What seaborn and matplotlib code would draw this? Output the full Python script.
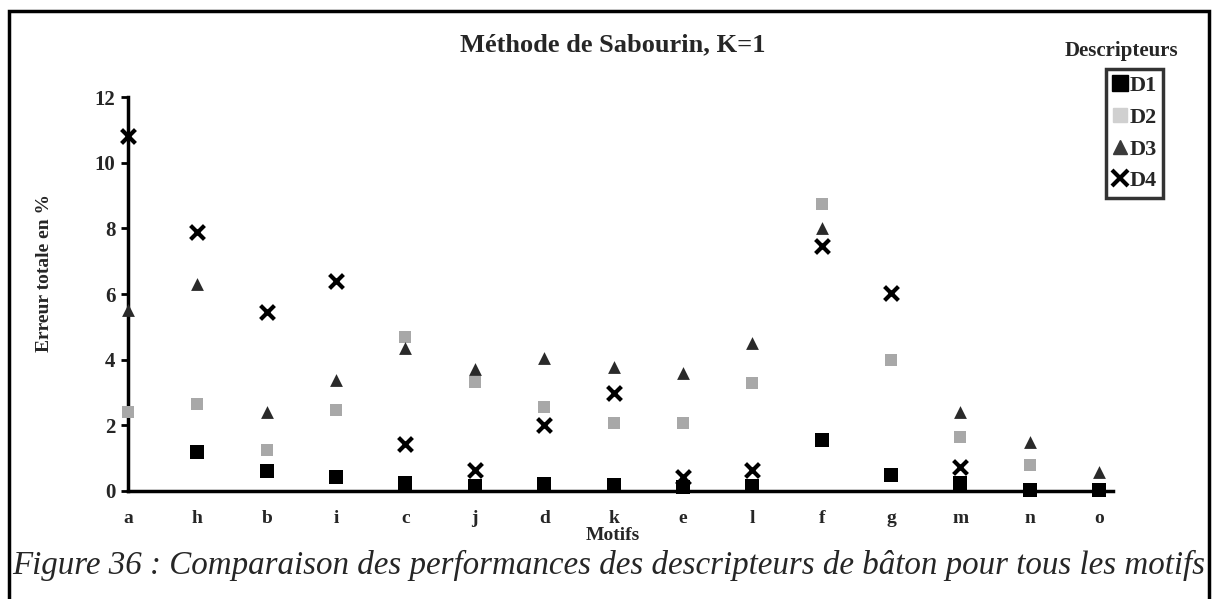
import numpy as np
import pandas as pd
import matplotlib
matplotlib.use("Agg")
import matplotlib.pyplot as plt
from matplotlib.patches import Rectangle
from matplotlib.lines import Line2D
import seaborn as sns

# Motifs, in display order
motifs = ["a", "h", "b", "i", "c", "j", "d", "k", "e", "l", "f", "g", "m", "n", "o"]

# Total error (%) per descriptor
d1 = [np.nan, 1.2, 0.6, 0.43, 0.24, 0.15, 0.2, 0.18, 0.12, 0.15, 1.55, 0.49, 0.25, 0.03, 0.02]
d2 = [2.4, 2.65, 1.25, 2.47, 4.7, 3.32, 2.57, 2.07, 2.08, 3.3, 8.75, 4.0, 1.65, 0.8, np.nan]
d3 = [5.5, 6.3, 2.42, 3.38, 4.36, 3.72, 4.05, 3.78, 3.58, 4.5, 8.0, np.nan, 2.4, 1.5, 0.58]
d4 = [10.8, 7.9, 5.46, 6.4, 1.44, 0.64, 2.01, 3.0, 0.42, 0.64, 7.47, 6.03, 0.72, np.nan, np.nan]

series_names = ["D1", "D2", "D3", "D4"]

sns.set_theme(style="white")
plt.rcParams["font.family"] = ["Liberation Serif", "DejaVu Serif"]

fig = plt.figure(figsize=(12.16, 5.99), dpi=100)
ax = fig.add_axes([128 / 1216, 1 - 491 / 599, 985 / 1216, (491 - 97) / 599])

xpos = np.arange(len(motifs))
df = pd.DataFrame({"pos": xpos, "D1": d1, "D2": d2, "D3": d3, "D4": d4})

styles = {
    "D1": dict(marker="s", color="black", s=110, linewidth=0),
    "D2": dict(marker="s", color="#a8a8a8", s=75, linewidth=0),
    "D3": dict(marker="^", color="#2a2a2a", s=85, linewidth=0),
    "D4": dict(marker="x", color="black", s=100, linewidth=3),
}
for name in series_names:
    sns.scatterplot(data=df, x="pos", y=name, ax=ax, clip_on=False, zorder=3,
                    legend=False, **styles[name])

ax.set_xlim(0, 14.2)
ax.set_ylim(0, 12)
ax.set_xticks(xpos)
ax.set_xticklabels(motifs, fontsize=14, fontweight="bold")
ax.set_yticks(np.arange(0, 13, 2))
ax.set_yticklabels([str(v) for v in range(0, 13, 2)], fontsize=15, fontweight="bold")
ax.tick_params(axis="x", direction="inout", length=9, width=2, pad=9, color="black")
ax.tick_params(axis="y", direction="out", length=5, width=2, pad=4, color="black", left=True)

for side in ["top", "right"]:
    ax.spines[side].set_visible(False)
for side in ["left", "bottom"]:
    ax.spines[side].set_linewidth(2.5)
    ax.spines[side].set_color("black")

ax.set_xlabel("Motifs", fontsize=14, fontweight="bold")
ax.xaxis.set_label_coords(613 / 1216 - 128 / 1216 * 0, 0, transform=None)
ax.xaxis.label.set_transform(fig.transFigure)
ax.xaxis.label.set_position((613 / 1216, 1 - 535 / 599))
ax.xaxis.label.set_verticalalignment("center")
ax.set_ylabel("Erreur totale en %", fontsize=14, fontweight="bold")
ax.yaxis.set_label_coords(45 / 1216, 1 - 273 / 599, transform=fig.transFigure)
ax.yaxis.label.set_verticalalignment("center")
ax.set_facecolor("white")

# Titles
fig.text(613 / 1216, 1 - 45 / 599, "Méthode de Sabourin, K=1", ha="center", va="center",
         fontsize=19, fontweight="bold")
fig.text(1121 / 1216, 1 - 51 / 599, "Descripteurs", ha="center", va="center",
         fontsize=15, fontweight="bold")

# Legend
handles = [
    Line2D([], [], linestyle="none", marker="s", markersize=12, color="black"),
    Line2D([], [], linestyle="none", marker="s", markersize=10, color="#d0d0d0"),
    Line2D([], [], linestyle="none", marker="^", markersize=10, color="#3a3a3a"),
    Line2D([], [], linestyle="none", marker="x", markersize=11, color="black", markeredgewidth=3),
]
leg = fig.legend(handles, series_names, loc="upper left",
                 bbox_to_anchor=(1106 / 1216, 1 - 69 / 599),
                 frameon=True, fancybox=False, handlelength=0.7, handletextpad=0.05,
                 labelspacing=0.5, borderpad=0.3, borderaxespad=0,
                 prop={"family": "Liberation Serif", "weight": "bold", "size": 16})
leg.get_frame().set_edgecolor("black")
leg.get_frame().set_linewidth(2.5)

# Caption
fig.text(609 / 1216, 1 - 565 / 599,
         "Figure 36 : Comparaison des performances des descripteurs de bâton pour tous les motifs",
         ha="center", va="center", fontsize=23.8, style="italic")

# Outer frame
fig.patches.append(Rectangle((9 / 1216, -0.01), 1200 / 1216, 1 - 11 / 599 + 0.01,
                             transform=fig.transFigure, fill=False,
                             edgecolor="black", linewidth=2.5))

fig.savefig("out.png", dpi=100, facecolor="white")
